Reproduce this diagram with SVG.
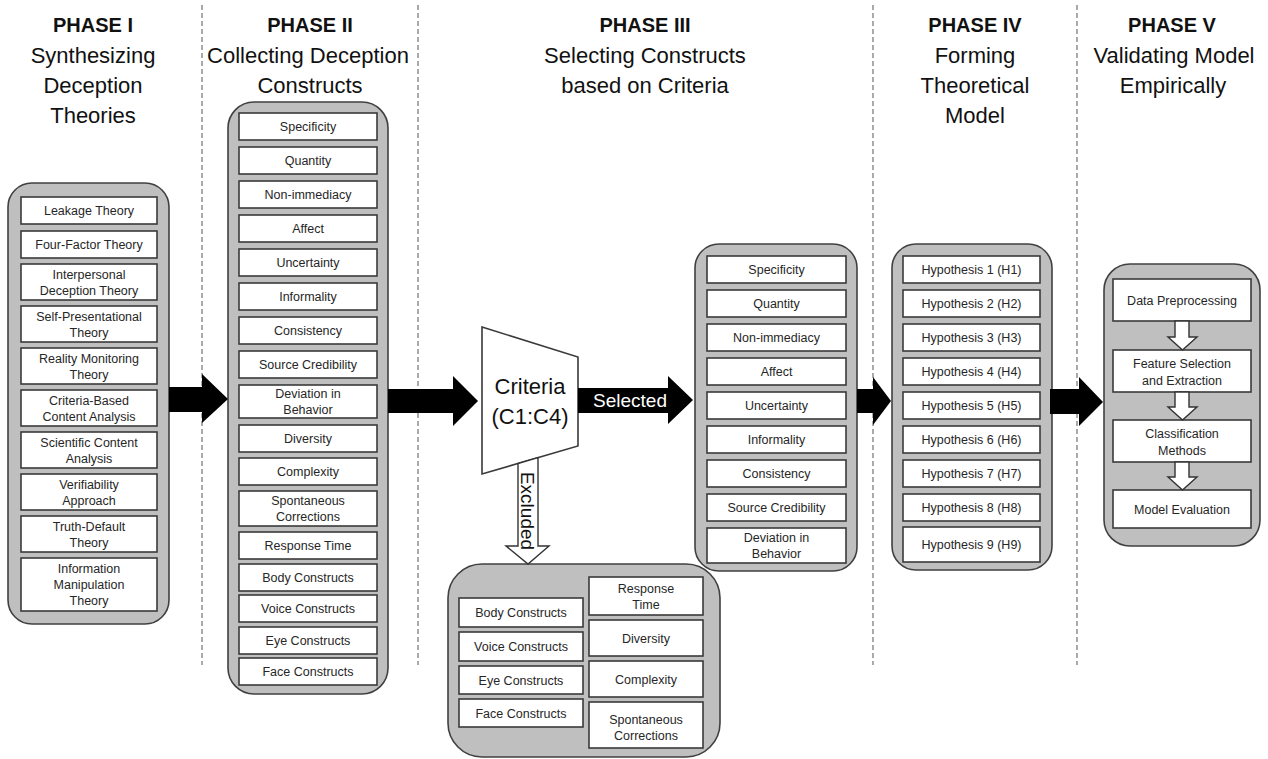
<svg xmlns="http://www.w3.org/2000/svg" width="1268" height="759" viewBox="0 0 1268 759">
<style>
.bg{fill:#ffffff}
.sep{stroke:#555;stroke-width:1;stroke-dasharray:5,3;fill:none}
.cont{fill:#bfbfbf;stroke:#404040;stroke-width:1.6}
.box{fill:#ffffff;stroke:#3a3a3a;stroke-width:1.6}
.t{font-family:"Liberation Sans",Arial,sans-serif;font-size:12.5px;fill:#262626;text-anchor:middle}
.ph{font-family:"Liberation Sans",Arial,sans-serif;font-size:20px;font-weight:bold;fill:#111;text-anchor:middle}
.sub{font-family:"Liberation Sans",Arial,sans-serif;font-size:22px;fill:#111;text-anchor:middle}
.blk{fill:#000000}
.hol{fill:#ffffff;stroke:#333;stroke-width:1.4}
</style>
<rect class="bg" x="0" y="0" width="1268" height="759"/>
<g id="separators">
<line class="sep" x1="202" y1="5" x2="202" y2="665"/>
<line class="sep" x1="418" y1="5" x2="418" y2="665"/>
<line class="sep" x1="873" y1="5" x2="873" y2="665"/>
<line class="sep" x1="1077" y1="5" x2="1077" y2="665"/>
</g>
<g id="titles">
<text class="ph" x="93" y="32">PHASE I</text>
<text class="sub" x="93" y="63">Synthesizing</text>
<text class="sub" x="93" y="93">Deception</text>
<text class="sub" x="93" y="123">Theories</text>
<text class="ph" x="310" y="32">PHASE II</text>
<text class="sub" x="308" y="63">Collecting Deception</text>
<text class="sub" x="310" y="93">Constructs</text>
<text class="ph" x="645" y="32">PHASE III</text>
<text class="sub" x="645" y="63">Selecting Constructs</text>
<text class="sub" x="645" y="93">based on Criteria</text>
<text class="ph" x="975" y="32">PHASE IV</text>
<text class="sub" x="975" y="63">Forming</text>
<text class="sub" x="975" y="93">Theoretical</text>
<text class="sub" x="975" y="123">Model</text>
<text class="ph" x="1172" y="32">PHASE V</text>
<text class="sub" x="1174" y="63">Validating Model</text>
<text class="sub" x="1173" y="93">Empirically</text>
</g>
<g id="phase1">
<rect class="cont" x="8" y="183" width="161" height="441" rx="24"/>
<rect class="box" x="21" y="197" width="136" height="27"/><text class="t" x="89" y="215">Leakage Theory</text>
<rect class="box" x="21" y="231" width="136" height="27"/><text class="t" x="89" y="249">Four-Factor Theory</text>
<rect class="box" x="21" y="264" width="136" height="36"/><text class="t" x="89" y="279">Interpersonal</text><text class="t" x="89" y="295">Deception Theory</text>
<rect class="box" x="21" y="306" width="136" height="36"/><text class="t" x="89" y="321">Self-Presentational</text><text class="t" x="89" y="337">Theory</text>
<rect class="box" x="21" y="348" width="136" height="36"/><text class="t" x="89" y="363">Reality Monitoring</text><text class="t" x="89" y="379">Theory</text>
<rect class="box" x="21" y="390" width="136" height="36"/><text class="t" x="89" y="405">Criteria-Based</text><text class="t" x="89" y="421">Content Analysis</text>
<rect class="box" x="21" y="432" width="136" height="36"/><text class="t" x="89" y="447">Scientific Content</text><text class="t" x="89" y="463">Analysis</text>
<rect class="box" x="21" y="474" width="136" height="36"/><text class="t" x="89" y="489">Verifiability</text><text class="t" x="89" y="505">Approach</text>
<rect class="box" x="21" y="516" width="136" height="36"/><text class="t" x="89" y="531">Truth-Default</text><text class="t" x="89" y="547">Theory</text>
<rect class="box" x="21" y="558" width="136" height="53"/><text class="t" x="89" y="573">Information</text><text class="t" x="89" y="589">Manipulation</text><text class="t" x="89" y="605">Theory</text>
</g>
<g id="phase2">
<rect class="cont" x="228" y="102" width="160" height="592" rx="26"/>
<rect class="box" x="239" y="113" width="138" height="27"/><text class="t" x="308" y="131">Specificity</text>
<rect class="box" x="239" y="147" width="138" height="27"/><text class="t" x="308" y="165">Quantity</text>
<rect class="box" x="239" y="181" width="138" height="27"/><text class="t" x="308" y="199">Non-immediacy</text>
<rect class="box" x="239" y="215" width="138" height="27"/><text class="t" x="308" y="233">Affect</text>
<rect class="box" x="239" y="249" width="138" height="27"/><text class="t" x="308" y="267">Uncertainty</text>
<rect class="box" x="239" y="283" width="138" height="27"/><text class="t" x="308" y="301">Informality</text>
<rect class="box" x="239" y="317" width="138" height="27"/><text class="t" x="308" y="335">Consistency</text>
<rect class="box" x="239" y="351" width="138" height="27"/><text class="t" x="308" y="369">Source Credibility</text>
<rect class="box" x="239" y="385" width="138" height="33"/><text class="t" x="308" y="398">Deviation in</text><text class="t" x="308" y="414">Behavior</text>
<rect class="box" x="239" y="425" width="138" height="27"/><text class="t" x="308" y="443">Diversity</text>
<rect class="box" x="239" y="458" width="138" height="27"/><text class="t" x="308" y="476">Complexity</text>
<rect class="box" x="239" y="491" width="138" height="35"/><text class="t" x="308" y="505">Spontaneous</text><text class="t" x="308" y="521">Corrections</text>
<rect class="box" x="239" y="532" width="138" height="27"/><text class="t" x="308" y="550">Response Time</text>
<rect class="box" x="239" y="564" width="138" height="27"/><text class="t" x="308" y="582">Body Constructs</text>
<rect class="box" x="239" y="595" width="138" height="27"/><text class="t" x="308" y="613">Voice Constructs</text>
<rect class="box" x="239" y="627" width="138" height="27"/><text class="t" x="308" y="645">Eye Constructs</text>
<rect class="box" x="239" y="658" width="138" height="27"/><text class="t" x="308" y="676">Face Constructs</text>
</g>
<g id="criteria">
<polygon class="box" points="482,327 578,357 578,446 482,474"/>
<text class="sub" x="530" y="394">Criteria</text>
<text class="sub" x="530" y="424">(C1:C4)</text>
</g>
<g id="selected">
<rect class="cont" x="695" y="244" width="162" height="327" rx="24"/>
<rect class="box" x="707" y="256" width="139" height="27"/><text class="t" x="776.5" y="274">Specificity</text>
<rect class="box" x="707" y="290" width="139" height="27"/><text class="t" x="776.5" y="308">Quantity</text>
<rect class="box" x="707" y="324" width="139" height="27"/><text class="t" x="776.5" y="342">Non-immediacy</text>
<rect class="box" x="707" y="358" width="139" height="27"/><text class="t" x="776.5" y="376">Affect</text>
<rect class="box" x="707" y="392" width="139" height="27"/><text class="t" x="776.5" y="410">Uncertainty</text>
<rect class="box" x="707" y="426" width="139" height="27"/><text class="t" x="776.5" y="444">Informality</text>
<rect class="box" x="707" y="460" width="139" height="27"/><text class="t" x="776.5" y="478">Consistency</text>
<rect class="box" x="707" y="494" width="139" height="27"/><text class="t" x="776.5" y="512">Source Credibility</text>
<rect class="box" x="707" y="528" width="139" height="35"/><text class="t" x="776.5" y="542">Deviation in</text><text class="t" x="776.5" y="558">Behavior</text>
</g>
<g id="excluded">
<rect class="cont" x="448" y="564" width="272" height="193" rx="34"/>
<rect class="box" x="459" y="598" width="124" height="29"/><text class="t" x="521" y="617">Body Constructs</text>
<rect class="box" x="459" y="632" width="124" height="29"/><text class="t" x="521" y="651">Voice Constructs</text>
<rect class="box" x="459" y="666" width="124" height="28"/><text class="t" x="521" y="684.5">Eye Constructs</text>
<rect class="box" x="459" y="699" width="124" height="28"/><text class="t" x="521" y="717.5">Face Constructs</text>
<rect class="box" x="589" y="577" width="114" height="38"/><text class="t" x="646" y="593">Response</text><text class="t" x="646" y="609">Time</text>
<rect class="box" x="589" y="620" width="114" height="36"/><text class="t" x="646" y="642.5">Diversity</text>
<rect class="box" x="589" y="661" width="114" height="36"/><text class="t" x="646" y="683.5">Complexity</text>
<rect class="box" x="589" y="702" width="114" height="46"/><text class="t" x="646" y="724">Spontaneous</text><text class="t" x="646" y="740">Corrections</text>
</g>
<g id="phase4">
<rect class="cont" x="892" y="244" width="160" height="326" rx="24"/>
<rect class="box" x="903" y="256" width="137" height="27"/><text class="t" x="971.5" y="274">Hypothesis 1 (H1)</text>
<rect class="box" x="903" y="290" width="137" height="27"/><text class="t" x="971.5" y="308">Hypothesis 2 (H2)</text>
<rect class="box" x="903" y="324" width="137" height="27"/><text class="t" x="971.5" y="342">Hypothesis 3 (H3)</text>
<rect class="box" x="903" y="358" width="137" height="27"/><text class="t" x="971.5" y="376">Hypothesis 4 (H4)</text>
<rect class="box" x="903" y="392" width="137" height="27"/><text class="t" x="971.5" y="410">Hypothesis 5 (H5)</text>
<rect class="box" x="903" y="426" width="137" height="27"/><text class="t" x="971.5" y="444">Hypothesis 6 (H6)</text>
<rect class="box" x="903" y="460" width="137" height="27"/><text class="t" x="971.5" y="478">Hypothesis 7 (H7)</text>
<rect class="box" x="903" y="494" width="137" height="27"/><text class="t" x="971.5" y="512">Hypothesis 8 (H8)</text>
<rect class="box" x="903" y="527" width="137" height="35"/><text class="t" x="971.5" y="549">Hypothesis 9 (H9)</text>
</g>
<g id="phase5">
<rect class="cont" x="1104" y="264" width="156" height="282" rx="26"/>
<rect class="box" x="1113" y="279" width="138" height="42"/><text class="t" x="1182" y="304.5">Data Preprocessing</text>
<rect class="box" x="1113" y="350" width="138" height="42"/><text class="t" x="1182" y="367.5">Feature Selection</text><text class="t" x="1182" y="384.5">and Extraction</text>
<rect class="box" x="1113" y="420" width="138" height="42"/><text class="t" x="1182" y="437.5">Classification</text><text class="t" x="1182" y="454.5">Methods</text>
<rect class="box" x="1113" y="490" width="138" height="38"/><text class="t" x="1182" y="513.5">Model Evaluation</text>
</g>
<g id="connectors">
<polygon class="blk" points="169,387 202,387 202,374 228,399 202,423 202,412 169,412"/>
<polygon class="blk" points="388,389 453,389 453,376 478,401 453,426 453,413 388,413"/>
<polygon class="blk" points="578,388 668,388 668,376 693,400 668,424 668,413 578,413"/>
<text x="630" y="407" style="font-family:'Liberation Sans',Arial,sans-serif;font-size:19px;fill:#ffffff;text-anchor:middle">Selected</text>
<polygon class="blk" points="857,389 873,389 873,377 891,401 873,425 873,413 857,413"/>
<polygon class="blk" points="1050,389 1079,389 1079,377 1103,402 1079,426 1079,414 1050,414"/>
<polygon class="hol" points="518,463.5 518,546 506,546 528,564 549,546 538,546 538,457.7"/>
<text transform="translate(527,511) rotate(90)" x="0" y="0" dominant-baseline="central" style="font-family:'Liberation Sans',Arial,sans-serif;font-size:19px;fill:#111;text-anchor:middle">Excluded</text>
<polygon class="hol" points="1175,321 1175,337 1168,337 1182.5,350 1197,337 1189,337 1189,321"/>
<polygon class="hol" points="1175,392 1175,407 1168,407 1182.5,420 1197,407 1189,407 1189,392"/>
<polygon class="hol" points="1175,462 1175,477 1168,477 1182.5,490 1197,477 1189,477 1189,462"/>
</g>
</svg>
